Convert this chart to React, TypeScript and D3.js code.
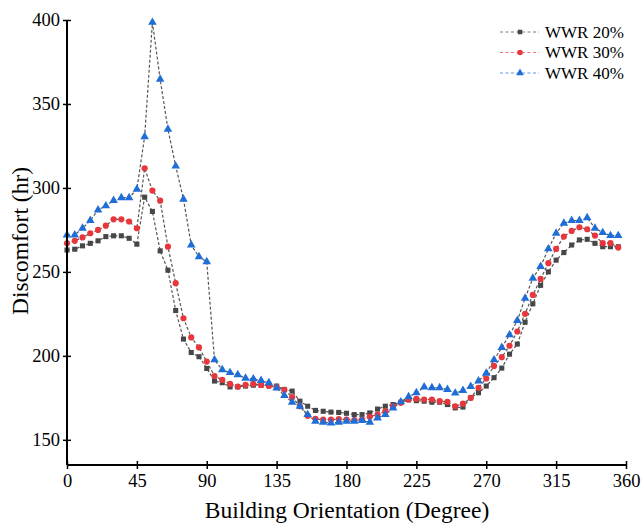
import React, { useEffect, useRef } from "react";
import * as d3 from "d3";

// orientation (degrees)
const angles = [
  0, 5, 10, 15, 20, 25, 30, 35, 40, 45, 50, 55, 60, 65, 70, 75, 80, 85,
  90, 95, 100, 105, 110, 115, 120, 125, 130, 135, 140, 145, 150, 155, 160, 165, 170, 175,
  180, 185, 190, 195, 200, 205, 210, 215, 220, 225, 230, 235, 240, 245, 250, 255, 260, 265,
  270, 275, 280, 285, 290, 295, 300, 305, 310, 315, 320, 325, 330, 335, 340, 345, 350, 355,
];

const wwr20 = [
  263, 263.5, 265.5, 267, 268.5, 271, 271.5, 271.5, 270, 266.5, 294.5, 286, 262.5, 251, 227, 210, 202, 199.5,
  192.5, 185, 184, 181.5, 181.5, 182, 182.5, 182.5, 182.5, 182, 180, 179, 173, 170, 167.5, 167, 166.5, 166.3,
  165.8, 165, 165, 166, 168.3, 170, 171, 172.4, 173.8, 173.3, 173, 172.4, 172.4, 171, 169, 169.5, 175, 178,
  182, 187, 192.7, 201, 207, 220, 231, 242, 250, 257, 261.5, 266, 269, 269.4, 267, 265, 265, 265,
];

const wwr30 = [
  267, 268.5, 270.5, 273, 275, 277.5, 281.3, 281.3, 280, 276, 311.7, 298.4, 292.4, 265, 243.3, 222.4, 211, 205,
  196.6, 188, 185.7, 183.3, 181.7, 182.7, 183.3, 182.7, 182.1, 181.4, 179.8, 175.4, 170, 164.3, 162.5, 162, 162, 162.3,
  162, 161.8, 162, 163.7, 165, 167, 170, 172, 174, 174.4, 174, 174, 173, 172.6, 170, 171.5, 175, 181,
  186.5, 194, 199.2, 206, 214.5, 225, 236.3, 245.8, 255.2, 263.7, 271, 274.4, 276.6, 275.4, 271.6, 267.1, 267.1, 264.5,
];

const wwr40 = [
  272, 272, 276, 280.6, 286.9, 289.3, 292.5, 294.2, 294.2, 299.2, 330.5, 398.6, 364.7, 335, 313, 293.3, 266, 259,
  256, 197.6, 191.7, 190, 188.7, 186.7, 186.3, 185.3, 184, 180.8, 176.4, 172.4, 170, 165, 161, 160.5, 160, 160.5,
  161, 161, 161.5, 160.5, 163, 165, 169, 172.6, 175.6, 178, 181.4, 181, 181, 180, 177.8, 179.4, 181.7, 185,
  189.7, 197.6, 205, 212.5, 221, 234.3, 246.2, 253.2, 263.7, 273, 279, 280.6, 280.6, 282.3, 276, 273.4, 271.6, 271.6,
];

const seriesNames = ["WWR 20%", "WWR 30%", "WWR 40%"];
const seriesColors = ["#474747", "#e8373c", "#1f6ed8"];
const xTicks = [0, 45, 90, 135, 180, 225, 270, 315, 360];
const yTicks = [150, 200, 250, 300, 350, 400];

const W = 641;
const H = 526;
const font = "'Liberation Serif', 'Times New Roman', serif";

export default function App() {
  const svgRef = useRef<SVGSVGElement>(null);

  useEffect(() => {
    const svg = d3.select(svgRef.current);
    svg.selectAll("*").remove();

    const x = d3.scaleLinear().domain([0, 360]).range([67, 626]);
    const y = d3.scaleLinear().domain([135, 400]).range([465, 20]);

    const all = [wwr20, wwr30, wwr40];
    const symbols = [d3.symbolSquare, d3.symbolCircle, d3.symbolTriangle];
    const symSizes = [26, 30, 32];

    const line = d3
      .line<number>()
      .x((_, i) => x(angles[i]))
      .y((d) => y(d));

    // lines
    all.forEach((vals) => {
      svg
        .append("path")
        .attr("d", line(vals))
        .attr("fill", "none")
        .attr("stroke", "#555")
        .attr("stroke-width", 1.2)
        .attr("stroke-dasharray", "3,2");
    });

    // markers
    all.forEach((vals, s) => {
      const sym = d3.symbol().type(symbols[s]).size(symSizes[s]);
      svg
        .append("g")
        .selectAll("path")
        .data(vals)
        .enter()
        .append("path")
        .attr("d", sym)
        .attr("transform", (d, i) => `translate(${x(angles[i])},${y(d)})`)
        .attr("fill", seriesColors[s]);
    });

    // x axis
    const xAxis = svg
      .append("g")
      .attr("transform", `translate(0,${y(135)})`)
      .call(d3.axisBottom(x).tickValues(xTicks).tickSize(4).tickSizeOuter(0));
    xAxis.select(".domain").attr("stroke", "#000").attr("stroke-width", 2).attr("d", `M${x(0)},0H${x(360)}`);
    xAxis.selectAll(".tick line").attr("stroke", "#000").attr("stroke-width", 1.5).attr("y1", -4).attr("y2", 4);
    xAxis
      .selectAll(".tick text")
      .attr("font-family", font)
      .attr("font-size", 18.5)
      .attr("fill", "#000")
      .attr("dy", "0.71em")
      .attr("y", 9);

    // y axis
    const yAxis = svg
      .append("g")
      .attr("transform", `translate(${x(0)},0)`)
      .call(d3.axisLeft(y).tickValues(yTicks).tickSize(4).tickSizeOuter(0));
    yAxis.select(".domain").attr("stroke", "#000").attr("stroke-width", 2).attr("d", `M0,${y(400)}V${y(135)}`);
    yAxis.selectAll(".tick line").attr("stroke", "#000").attr("stroke-width", 1.5).attr("x1", 4).attr("x2", -4);
    yAxis
      .selectAll(".tick text")
      .attr("font-family", font)
      .attr("font-size", 18.5)
      .attr("fill", "#000")
      .attr("x", -7);

    // titles
    svg
      .append("text")
      .attr("x", 347)
      .attr("y", 518)
      .attr("text-anchor", "middle")
      .attr("font-family", font)
      .attr("font-size", 23.5)
      .text("Building Orientation (Degree)");

    svg
      .append("text")
      .attr("transform", `translate(28,241) rotate(-90)`)
      .attr("text-anchor", "middle")
      .attr("font-family", font)
      .attr("font-size", 23.5)
      .text("Discomfort (hr)");

    // legend
    const lg = svg.append("g");
    seriesNames.forEach((name, s) => {
      const ly = 32 + s * 20.5;
      lg.append("line")
        .attr("x1", 500)
        .attr("x2", 539)
        .attr("y1", ly)
        .attr("y2", ly)
        .attr("stroke", seriesColors[s])
        .attr("stroke-opacity", 0.7)
        .attr("stroke-width", 1)
        .attr("stroke-dasharray", "3,2.5");
      lg.append("path")
        .attr("d", d3.symbol().type(symbols[s]).size(symSizes[s] * 0.8)())
        .attr("transform", `translate(520,${ly})`)
        .attr("fill", seriesColors[s]);
      lg.append("text")
        .attr("x", 545)
        .attr("y", ly)
        .attr("dy", "0.35em")
        .attr("font-family", font)
        .attr("font-size", 17)
        .text(name);
    });
  }, []);

  return (
    <svg
      ref={svgRef}
      width={W}
      height={H}
      style={{ position: "absolute", left: 0, top: 0, background: "#fff" }}
    />
  );
}
